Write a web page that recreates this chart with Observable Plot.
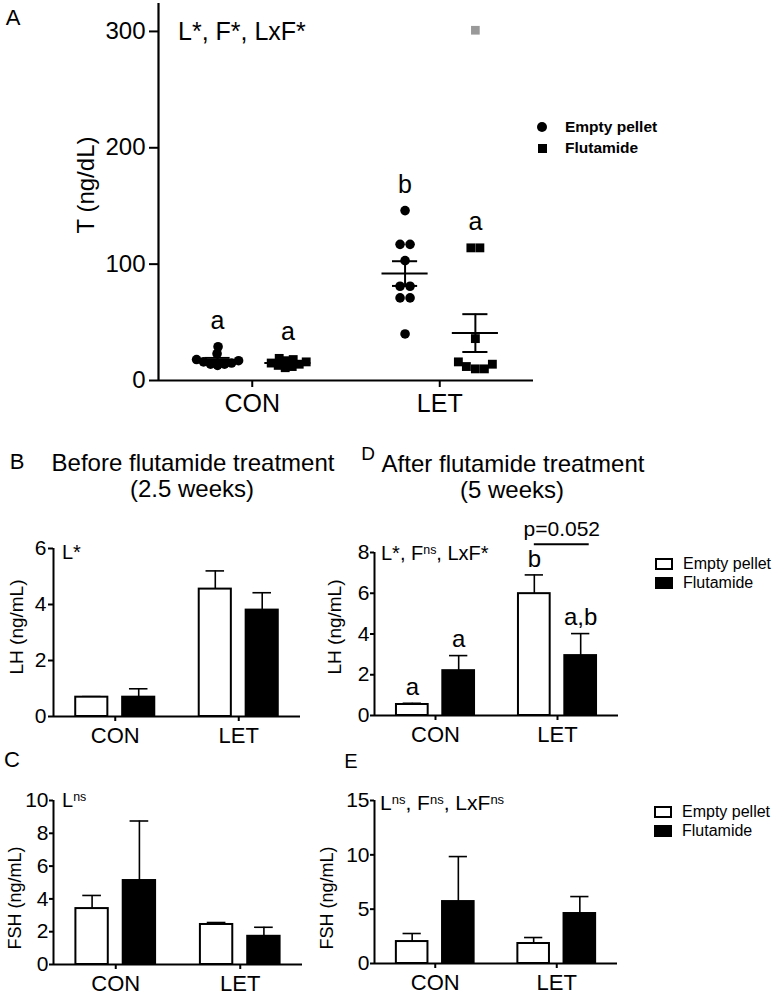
<!DOCTYPE html>
<html><head><meta charset="utf-8">
<script src="https://cdn.jsdelivr.net/npm/d3@7"></script>
<script src="https://cdn.jsdelivr.net/npm/@observablehq/plot@0.6"></script>
<style>
body{margin:0;background:#fff;}
#root{position:relative;width:773px;height:995px;overflow:hidden;font-family:"Liberation Sans",Arial,sans-serif;color:#000;background:#fff;}
.t{position:absolute;white-space:nowrap;line-height:1;}
.c{transform:translate(-50%,-50%);}
.l{transform:translate(0,-50%);}
.r{transform:translate(-50%,-50%) rotate(-90deg);}
.panel{position:absolute;}
sup{font-size:0.62em;vertical-align:0;position:relative;top:-0.5em;}
.sw{position:absolute;box-sizing:border-box;}
</style></head><body><div id="root"></div>
<script>
// ---------- data ----------
const groups = ["CON", "LET"];
const treatments = ["Empty pellet", "Flutamide"];

// Panel A: serum T (ng/dL), individual animals
const tConEmpty = [29, 23, 18, 17, 16, 15, 14, 14, 13];
const tConFlut = [19, 18, 17, 16, 15, 14, 13, 12, 11];
const tLetEmpty = [146, 117, 117, 103, 81, 81, 71, 71, 40];
const tLetFlut = [114, 114, 36, 16, 14, 12, 10, 10];
const tLetFlutExcluded = [301];
const lettersAEmpty = ["a", "b"];
const lettersAFlut = ["a", "a"];

// Panel B: LH before flutamide (2.5 weeks), mean and SEM for CON, LET
const lhBeforeEmpty = [0.69, 4.55];
const lhBeforeEmptySem = [0.02, 0.65];
const lhBeforeFlut = [0.69, 3.80];
const lhBeforeFlutSem = [0.30, 0.62];

// Panel D: LH after flutamide (5 weeks)
const lhAfterEmpty = [0.54, 5.98];
const lhAfterEmptySem = [0.06, 0.92];
const lhAfterFlut = [2.20, 2.94];
const lhAfterFlutSem = [0.74, 1.08];
const lettersDEmpty = ["a", "b"];
const lettersDFlut = ["a", "a,b"];
const pLabelD = "p=0.052";

// Panel C: FSH before flutamide
const fshBeforeEmpty = [3.41, 2.44];
const fshBeforeEmptySem = [0.80, 0.12];
const fshBeforeFlut = [5.12, 1.72];
const fshBeforeFlutSem = [3.63, 0.55];

// Panel E: FSH after flutamide
const fshAfterEmpty = [2.02, 1.84];
const fshAfterEmptySem = [0.74, 0.55];
const fshAfterFlut = [5.70, 4.60];
const fshAfterFlutSem = [4.14, 1.56];

// ---------- layout helpers ----------
const FONT = '"Liberation Sans", Arial, sans-serif';
const root = document.getElementById("root");
function txt(html, x, y, size, cls = "c", extra = "") {
  const d = document.createElement("div");
  d.className = "t " + cls;
  d.style.cssText = `left:${x}px;top:${y}px;font-size:${size}px;${extra}`;
  d.innerHTML = html;
  root.appendChild(d);
}
function place(svg, left, top) {
  const w = document.createElement("div");
  w.className = "panel";
  w.style.left = left + "px"; w.style.top = top + "px";
  w.appendChild(svg);
  root.appendChild(w);
}
const OFF = [-0.19, 0.19];
const HALF = 0.13, CAP = 0.075;
const intFmt = d => String(d);

function barRows(eM, eS, fM, fS) {
  const rows = [];
  groups.forEach((g, gi) => {
    rows.push({gi, t: 0, mean: eM[gi], sem: eS[gi]});
    rows.push({gi, t: 1, mean: fM[gi], sem: fS[gi]});
  });
  return rows;
}
const cx = d => d.gi + OFF[d.t];

function barPanel(o) {
  const rows = o.rows;
  const marks = [
    Plot.ruleX(rows, {x: cx, y1: "mean", y2: d => d.mean + d.sem, stroke: "#000", strokeWidth: 1.6}),
    Plot.ruleY(rows, {y: d => d.mean + d.sem, x1: d => cx(d) - CAP, x2: d => cx(d) + CAP, stroke: "#000", strokeWidth: 1.6}),
    Plot.rectY(rows.filter(d => d.t === 0), {x1: d => cx(d) - HALF, x2: d => cx(d) + HALF, y1: 0, y2: "mean", fill: "#fff", stroke: "#000", strokeWidth: 2}),
    Plot.rectY(rows.filter(d => d.t === 1), {x1: d => cx(d) - HALF, x2: d => cx(d) + HALF, y1: 0, y2: "mean", fill: "#000", stroke: "#000", strokeWidth: 2}),
    Plot.ruleY([0], {stroke: "#000", strokeWidth: 2}),
    Plot.ruleX([-0.5], {y1: 0, y2: o.yMax, stroke: "#000", strokeWidth: 2}),
    Plot.axisY({ticks: o.yTicks, tickFormat: intFmt, tickSize: o.tickY ?? 5, tickPadding: o.padY ?? 2, fontSize: 21, label: null, strokeWidth: 2, fill: "#000"}),
    Plot.axisX({ticks: [0, 1], tickFormat: i => groups[i], tickSize: 5, tickPadding: 6, fontSize: 22, label: null, strokeWidth: 2, fill: "#000"})
  ];
  if (o.letters) {
    marks.push(Plot.text(rows, {x: cx, y: d => d.mean + d.sem, text: d => o.letters[d.t][d.gi], dy: -16, fontSize: 24, fill: "#000"}));
  }
  if (o.pLabel) {
    const let_ = rows.filter(d => d.gi === 1);
    const yTop = d3.max(let_, d => d.mean + d.sem) + 1.5;
    const br = [{x1: 1 + OFF[0], x2: 1 + OFF[1] + 0.07, y: yTop}];
    marks.push(Plot.ruleY(br, {x1: "x1", x2: "x2", y: "y", stroke: "#000", strokeWidth: 2}));
    marks.push(Plot.text(br, {x: d => (d.x1 + d.x2) / 2, y: "y", text: () => o.pLabel, dy: -15, fontSize: 21, fill: "#000"}));
  }
  return Plot.plot({
    width: o.width, height: o.height,
    marginLeft: o.mL, marginRight: o.mR, marginTop: o.mT, marginBottom: o.mB,
    x: {domain: [-0.5, 1.5]},
    y: {domain: [0, o.yMax]},
    style: {fontFamily: FONT, background: "transparent", overflow: "visible", color: "#000"},
    marks
  });
}

// ---------- Panel A ----------
const A = {width: 560, height: 425, mL: 158, mR: 27, mT: 3, mB: 45, yMax: 324};
const pxX = (A.width - A.mL - A.mR) / 2;
const pxY = (A.height - A.mT - A.mB) / A.yMax;
const OFFA = [-0.185, 0.19];

function dodgeOffsets(vals, D) {
  const idx = d3.range(vals.length).sort((a, b) => vals[a] - vals[b]);
  const pos = new Array(vals.length);
  const placed = [];
  for (const i of idx) {
    const y = vals[i] * pxY;
    let x = 0;
    for (let k = 0; k < 300; k++) {
      const cands = k === 0 ? [0] : [k, -k];
      let ok = null;
      for (const c of cands) if (placed.every(p => Math.hypot(p.x - c, p.y - y) >= D)) { ok = c; break; }
      if (ok !== null) { x = ok; break; }
    }
    placed.push({i, x, y}); pos[i] = x;
  }
  const parent = d3.range(vals.length);
  const find = a => parent[a] === a ? a : (parent[a] = find(parent[a]));
  for (const p of placed) for (const q of placed)
    if (p.i < q.i && Math.hypot(p.x - q.x, p.y - q.y) < D * 1.3) parent[find(p.i)] = find(q.i);
  const clusters = d3.group(d3.range(vals.length), find);
  for (const [, members] of clusters) {
    const m = d3.mean(members, i => pos[i]);
    for (const i of members) pos[i] -= m;
  }
  return pos.map(x => x / pxX);
}

const aSets = [
  {gi: 0, t: 0, vals: tConEmpty, D: 7},
  {gi: 0, t: 1, vals: tConFlut, D: 7},
  {gi: 1, t: 0, vals: tLetEmpty, D: 9.5},
  {gi: 1, t: 1, vals: tLetFlut, D: 8.5}
];
const aPts = [];
const aStats = [];
for (const s of aSets) {
  const offs = dodgeOffsets(s.vals, s.D);
  s.vals.forEach((v, i) => aPts.push({gi: s.gi, t: s.t, v, dx: offs[i]}));
  const mean = d3.mean(s.vals);
  const sem = d3.deviation(s.vals) / Math.sqrt(s.vals.length);
  aStats.push({gi: s.gi, t: s.t, mean, sem, max: d3.max(s.vals),
    letter: (s.t === 0 ? lettersAEmpty : lettersAFlut)[s.gi]});
}
const aOut = tLetFlutExcluded.map(v => ({gi: 1, t: 1, v, dx: 0}));
const acx = d => d.gi + OFFA[d.t];

const plotA = Plot.plot({
  width: A.width, height: A.height,
  marginLeft: A.mL, marginRight: A.mR, marginTop: A.mT, marginBottom: A.mB,
  x: {domain: [-0.5, 1.5]},
  y: {domain: [0, A.yMax]},
  style: {fontFamily: FONT, background: "transparent", overflow: "visible", color: "#000"},
  marks: [
    Plot.dot(aPts.filter(d => d.t === 0), {x: d => acx(d) + d.dx, y: "v", r: 4.8, fill: "#000", symbol: "circle"}),
    Plot.dot(aPts.filter(d => d.t === 1), {x: d => acx(d) + d.dx, y: "v", r: 5, fill: "#000", symbol: "square"}),
    Plot.dot(aOut, {x: d => acx(d) + d.dx, y: "v", r: 4.9, fill: "#999", symbol: "square"}),
    Plot.ruleY(aStats, {y: "mean", x1: d => acx(d) - 0.123, x2: d => acx(d) + 0.123, stroke: "#000", strokeWidth: 2}),
    Plot.ruleY(aStats, {y: d => d.mean + d.sem, x1: d => acx(d) - 0.067, x2: d => acx(d) + 0.067, stroke: "#000", strokeWidth: 2}),
    Plot.ruleY(aStats, {y: d => d.mean - d.sem, x1: d => acx(d) - 0.067, x2: d => acx(d) + 0.067, stroke: "#000", strokeWidth: 2}),
    Plot.ruleX(aStats, {x: acx, y1: d => d.mean - d.sem, y2: d => d.mean + d.sem, stroke: "#000", strokeWidth: 2}),
    Plot.text(aStats, {x: acx, y: "max", text: "letter", dy: -26, fontSize: 25, fill: "#000"}),
    Plot.ruleY([0], {stroke: "#000", strokeWidth: 2.2}),
    Plot.ruleX([-0.5], {y1: 0, y2: A.yMax, stroke: "#000", strokeWidth: 2.2}),
    Plot.axisY({ticks: [0, 100, 200, 300], tickFormat: intFmt, tickSize: 9, tickPadding: 4, fontSize: 24, label: null, strokeWidth: 2, fill: "#000"}),
    Plot.axisX({ticks: [0, 1], tickFormat: i => groups[i], tickSize: 7, tickPadding: 7, fontSize: 25, label: null, strokeWidth: 2, fill: "#000"})
  ]
});
place(plotA, 0, 0);

// ---------- bar panels ----------
place(barPanel({rows: barRows(lhBeforeEmpty, lhBeforeEmptySem, lhBeforeFlut, lhBeforeFlutSem),
  width: 330, height: 230, mL: 53, mR: 30, mT: 28, mB: 34, yMax: 6, yTicks: [0, 2, 4, 6]}), 0, 520);
place(barPanel({rows: barRows(lhAfterEmpty, lhAfterEmptySem, lhAfterFlut, lhAfterFlutSem),
  width: 300, height: 230, mL: 34, mR: 22, mT: 32, mB: 35, yMax: 8, yTicks: [0, 2, 4, 6, 8], tickY: 4, padY: 1,
  letters: [lettersDEmpty, lettersDFlut], pLabel: pLabelD}), 340, 520);
place(barPanel({rows: barRows(fshBeforeEmpty, fshBeforeEmptySem, fshBeforeFlut, fshBeforeFlutSem),
  width: 330, height: 225, mL: 53, mR: 28, mT: 30, mB: 31, yMax: 10, yTicks: [0, 2, 4, 6, 8, 10], tickY: 4, padY: 1}), 0, 770);
place(barPanel({rows: barRows(fshAfterEmpty, fshAfterEmptySem, fshAfterFlut, fshAfterFlutSem),
  width: 300, height: 225, mL: 34, mR: 23, mT: 30, mB: 32, yMax: 15, yTicks: [0, 5, 10, 15], tickY: 4, padY: 1}), 340, 770);

// ---------- text ----------
txt("A", 13, 18, 22);
txt("B", 17, 462, 22);
txt("D", 368, 453, 19);
txt("C", 12, 760, 22);
txt("E", 351, 761, 20);

txt("T (ng/dL)", 86, 185, 24, "r");
txt("LH (ng/mL)", 16, 627, 19, "r");
txt("LH (ng/mL)", 334, 627, 19, "r");
txt("FSH (ng/mL)", 15, 898, 18, "r");
txt("FSH (ng/mL)", 327, 898, 18, "r");

txt("Before flutamide treatment", 193, 463, 24);
txt("(2.5 weeks)", 192, 489, 24);
txt("After flutamide treatment", 513, 464, 24);
txt("(5 weeks)", 512, 490, 24);

txt("L*, F*, LxF*", 178, 31, 25, "l");
txt("L*", 62, 552, 20, "l");
txt("L*, F<sup>ns</sup>, LxF*", 381, 553, 20, "l");
txt("L<sup>ns</sup>", 62, 800, 20, "l");
txt("L<sup>ns</sup>, F<sup>ns</sup>, LxF<sup>ns</sup>", 380, 802, 21, "l");

// legends
function sw(x, y, w, h, css) {
  const d = document.createElement("div");
  d.className = "sw";
  d.style.cssText = `left:${x}px;top:${y}px;width:${w}px;height:${h}px;${css}`;
  root.appendChild(d);
}
sw(537, 122, 10, 10, "background:#000;border-radius:50%;");
sw(537.5, 143.5, 9, 9, "background:#000;");
txt(treatments[0], 565, 127, 15.5, "l", "font-weight:bold;");
txt(treatments[1], 565, 148, 15.5, "l", "font-weight:bold;");

for (const [x, y] of [[655, 558], [654, 806]]) {
  sw(x, y, 18, 12, "border:2px solid #000;background:#fff;");
  sw(x, y + 19, 18, 12, "border:2px solid #000;background:#000;");
  txt(treatments[0], x + 28, y + 6, 16, "l");
  txt(treatments[1], x + 28, y + 25, 16, "l");
}
</script></body></html>
